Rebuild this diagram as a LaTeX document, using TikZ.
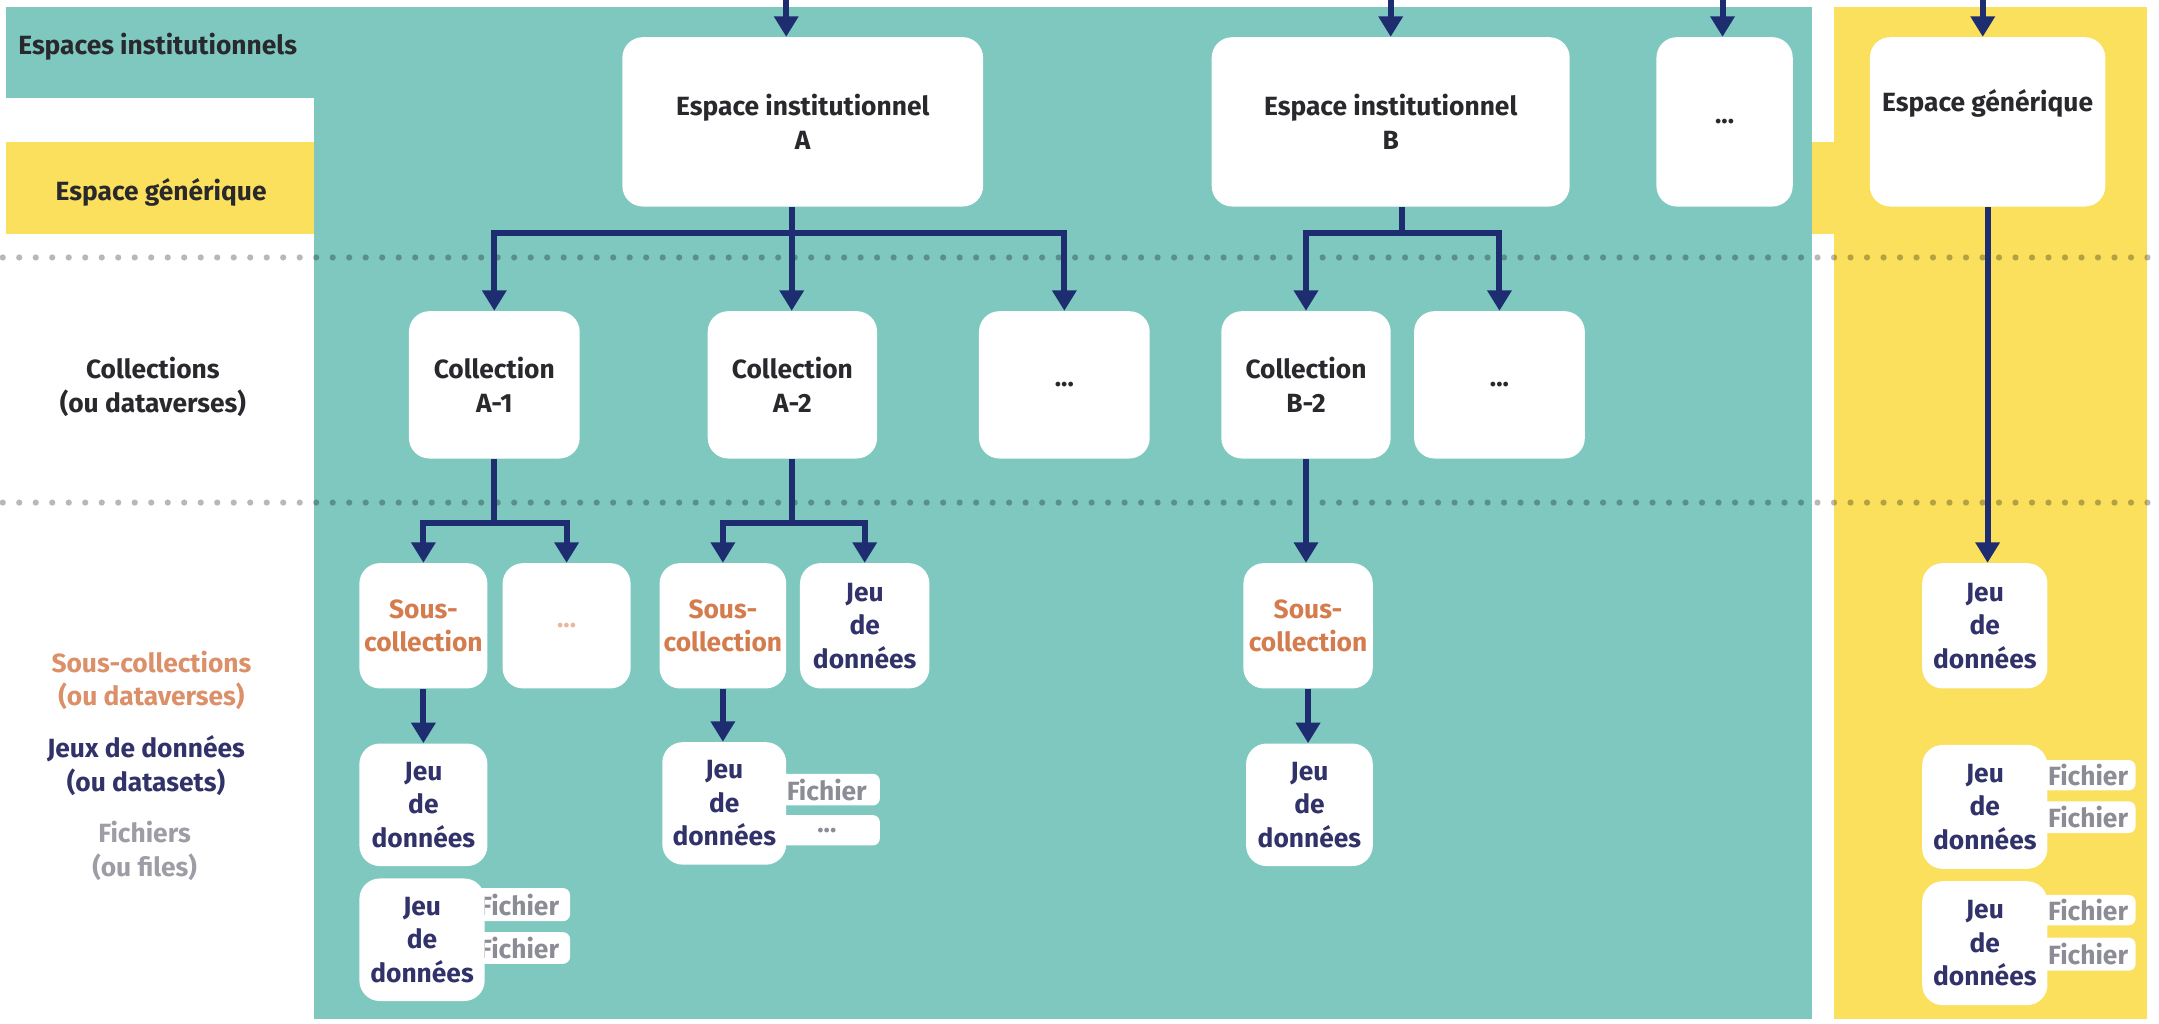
\documentclass[tikz,border=0pt]{standalone}
\usepackage{fontspec}
\setmainfont{Fira Sans}
\usetikzlibrary{arrows.meta,calc}
\definecolor{teal1}{RGB}{126,200,192}
\definecolor{yel}{RGB}{250,224,92}
\definecolor{navy}{RGB}{30,44,112}
\definecolor{darktxt}{RGB}{40,40,45}
\definecolor{navytxt}{RGB}{48,50,105}
\definecolor{orangetxt}{RGB}{212,124,78}
\definecolor{graytxt}{RGB}{140,140,150}
\begin{document}
\begin{tikzpicture}[x=0.02754cm,y=-0.02754cm,
  txt/.style={font=\fontsize{15}{19}\selectfont\bfseries, align=center, inner sep=0pt},
  wh/.style 2 args={minimum width=#1*0.02754cm, minimum height=#2*0.02754cm},
  box/.style={txt, fill=white, rounded corners=0.41cm, text=darktxt},
  sbox/.style={box, text=orangetxt},
  jbox/.style={box, text=navytxt},
  tag/.style={txt, fill=white, rounded corners=0.14cm, text=graytxt},
  ln/.style={draw=navy, line width=0.121cm},
  arr/.style={ln, -{Triangle[length=0.41cm,width=0.47cm]}},
  dotline/.style={draw=black, draw opacity=0.28, line width=0.124cm, line cap=round, dash pattern=on 0pt off 0.33cm}
]
\useasboundingbox (0,0) rectangle (1568,743);
\fill[white] (0,0) rectangle (1568,743);
% backgrounds
\fill[yel] (4,103) rectangle (1340,170);
\fill[teal1] (4,5) rectangle (229,71);
\fill[teal1] (228,5) rectangle (1316,740);
\fill[yel] (1332,5) rectangle (1559,740);
% dotted separators
\draw[dotline] (2,187) -- (1568,187);
\draw[dotline] (2,365) -- (1568,365);

% left labels
\node[txt, anchor=west, text=darktxt] (lblEI) at (13,34) {Espaces institutionnels};
\node[txt, text=darktxt] (lblEG) at (117,140) {Espace générique};
\node[txt, text=darktxt] (lblC) at (111,281) {Collections\\(ou dataverses)};
\node[txt, text=orangetxt!85] (lblSC) at (110,494) {Sous-collections\\(ou dataverses)};
\node[txt, text=navytxt] (lblJ) at (106,556) {Jeux de données\\(ou datasets)};
\node[txt, text=graytxt!85] (lblF) at (105,618) {Fichiers\\(ou files)};

% connector anchors
\coordinate (tA) at (571,0);
\coordinate (tB) at (1010,0);
\coordinate (tD) at (1251,0);
\coordinate (tG) at (1440,0);
\coordinate (barA) at (575,169);
\coordinate (barB) at (1018,169);
\coordinate (barA1) at (359,380);
\coordinate (barA2) at (575,380);

% top row
\node[box, wh={262}{123}] (A) at (583,88.5) {Espace institutionnel\\A};
\node[box, wh={260}{123}] (B) at (1010,88.5) {Espace institutionnel\\B};
\node[box, wh={99}{123}] (D0) at (1252.5,88.5) {...};
\node[box, wh={171}{123}] (EG) at (1443.5,88.5) {Espace générique\\\strut};

% collections row
\node[box, wh={124}{107}] (cA1) at (359,279.5) {Collection\\A-1};
\node[box, wh={123}{107}] (cA2) at (575.5,279.5) {Collection\\A-2};
\node[box, wh={124}{107}] (cD1) at (773,279.5) {...};
\node[box, wh={123}{107}] (cB2) at (948.5,279.5) {Collection\\B-2};
\node[box, wh={124}{107}] (cD2) at (1089,279.5) {...};

% sub-collections row
\node[sbox, wh={93}{91}] (sA1) at (307.5,454.5) {Sous-\\collection};
\node[box, wh={93}{91}, text=orangetxt!55] (dA1) at (411.5,454.5) {...};
\node[sbox, wh={92}{91}] (sA2) at (525,454.5) {Sous-\\collection};
\node[jbox, wh={94}{91}] (jA2) at (628,454.5) {Jeu\\de\\données};
\node[sbox, wh={94}{91}] (sB2) at (950,454.5) {Sous-\\collection};
\node[jbox, wh={91}{91}] (jG1) at (1441.5,454.5) {Jeu\\de\\données};

% file tags (behind dataset boxes)
\node[tag, wh={74}{24}] (tA1a) at (377,657) {Fichier};
\node[tag, wh={74}{23}] (tA1b) at (377,688.5) {Fichier};
\node[tag, wh={77}{23}] (tA2a) at (600.5,573.5) {Fichier};
\node[tag, wh={77}{22}] (tA2b) at (600.5,603) {...};
\node[tag, wh={69}{22}] (tG2a) at (1516.5,563) {Fichier};
\node[tag, wh={69}{23}] (tG2b) at (1516.5,593.5) {Fichier};
\node[tag, wh={69}{22}] (tG3a) at (1516.5,661) {Fichier};
\node[tag, wh={69}{24}] (tG3b) at (1516.5,693) {Fichier};

% datasets row
\node[jbox, wh={93}{89}] (jA1a) at (307.5,584.5) {Jeu\\de\\données};
\node[jbox, wh={91}{89}] (jA1b) at (306.5,682.5) {Jeu\\de\\données};
\node[jbox, wh={90}{89}] (jA2b) at (526,583.5) {Jeu\\de\\données};
\node[jbox, wh={92}{89}] (jB2) at (951,584.5) {Jeu\\de\\données};
\node[jbox, wh={91}{90}] (jG2) at (1441.5,586) {Jeu\\de\\données};
\node[jbox, wh={91}{90}] (jG3) at (1441.5,685) {Jeu\\de\\données};

% connectors
\draw[arr] (tA) -- (tA |- A.north);
\draw[arr] (tB) -- (tB |- B.north);
\draw[arr] (tD) -- (tD |- D0.north);
\draw[arr] (tG) -- (tG |- EG.north);

\draw[ln] (A.south -| barA) -- (barA);
\draw[arr] (barA) -- (barA |- cA2.north);
\draw[arr] (barA) -| (cA1.north);
\draw[arr] (barA) -| (cD1.north);

\draw[ln] (B.south -| barB) -- (barB);
\draw[arr] (barB) -| (cB2.north);
\draw[arr] (barB) -| (cD2.north);

\draw[arr] (EG.south) -- (EG.south |- jG1.north);

\draw[ln] (cA1.south) -- (barA1);
\draw[arr] (barA1) -| (sA1.north);
\draw[arr] (barA1) -| (dA1.north);
\draw[ln] (cA2.south -| barA2) -- (barA2);
\draw[arr] (barA2) -| (sA2.north);
\draw[arr] (barA2) -| (jA2.north);
\draw[arr] (cB2.south) -- (cB2.south |- sB2.north);

\draw[arr] (sA1.south) -- (sA1.south |- jA1a.north);
\draw[arr] (sA2.south) -- (sA2.south |- jA2b.north);
\draw[arr] (sB2.south) -- (sB2.south |- jB2.north);
\end{tikzpicture}
\end{document}
